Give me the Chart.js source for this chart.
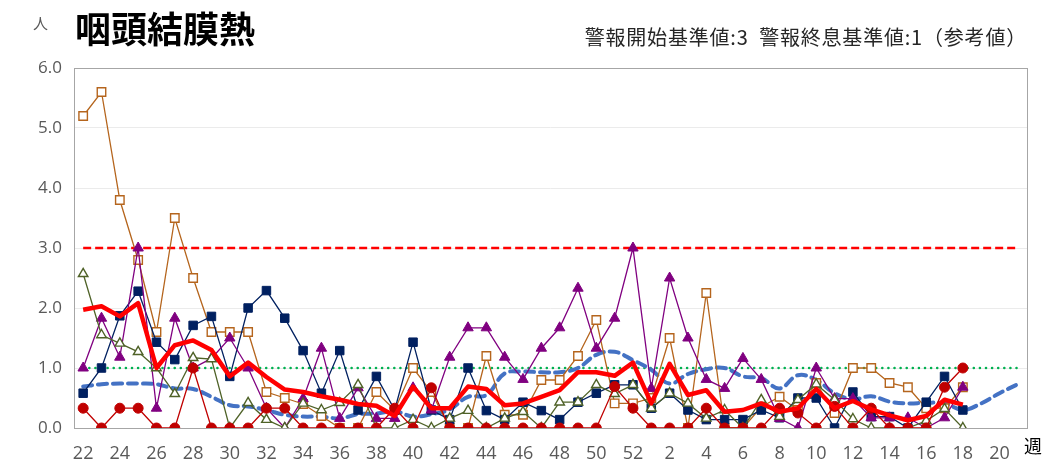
<!DOCTYPE html>
<html>
<head>
<meta charset="utf-8">
<script src="https://cdn.jsdelivr.net/npm/chart.js@4"></script>
<style>
  body { margin: 0; background: #fff; }
  #wrap { position: relative; width: 1042px; height: 464px; font-family: "Noto Sans CJK JP", "Noto Sans", sans-serif; }
  .lbl { position: absolute; white-space: pre; }
</style>
</head>
<body>
<div id="wrap">
  <canvas id="chart" width="1042" height="464"></canvas>
  <div class="lbl" style="left:33px;top:12px;font-size:15px;color:#595959;">人</div>
  <div class="lbl" style="left:75px;top:1px;font-size:36px;font-weight:bold;color:#000;">咽頭結膜熱</div>
  <div class="lbl" style="right:15px;top:22px;font-size:20px;letter-spacing:0.8px;color:#262626;">警報開始基準値:3  警報終息基準値:1（参考値）</div>
  <div class="lbl" style="left:1024px;top:432px;font-size:18px;color:#000;">週</div>
</div>
<script>
// weeks 22..52 then 1..21
const weeks = [22,23,24,25,26,27,28,29,30,31,32,33,34,35,36,37,38,39,40,41,42,43,44,45,46,47,48,49,50,51,52,
               1,2,3,4,5,6,7,8,9,10,11,12,13,14,15,16,17,18,19,20,21];
const tickLabels = [22,24,26,28,30,32,34,36,38,40,42,44,46,48,50,52,2,4,6,8,10,12,14,16,18,20];
const yTicks = ['0.0','1.0','2.0','3.0','4.0','5.0','6.0'];

const alertStart = 3;
const alertEnd = 1;

const seriesA = [5.2,5.6,3.8,2.8,1.6,3.5,2.5,1.6,1.6,1.6,0.6,0.5,0.4,0.2,0,0,0.6,0.3,1.0,0.6,0,0,1.2,0.22,0.22,0.8,0.8,1.2,1.8,0.41,0.41,
                 0.5,1.5,0,2.25,0,0,0.35,0.52,0.3,0.75,0.25,1.0,1.0,0.75,0.68,0.33,0.33,0.68,null,null,null];
const seriesB = [0.58,1.0,1.87,2.28,1.43,1.14,1.71,1.86,0.86,2.0,2.29,1.83,1.29,0.58,1.29,0.3,0.86,0.3,1.43,0.3,0.14,1.0,0.29,0.14,0.43,0.29,0.14,0.43,0.58,0.72,0.72,
                 0.33,0.58,0.3,0.14,0.14,0.14,0.3,0.17,0.5,0.5,0,0.6,0.19,0.19,0,0.43,0.86,0.3,null,null,null];
const seriesC = [1.0,1.83,1.18,3.0,0.33,1.83,1.0,1.16,1.5,1.0,0.33,0,0.49,1.33,0.16,0.67,0.16,0.16,0.67,0.3,1.18,1.67,1.67,1.18,0.81,1.33,1.67,2.33,1.33,1.83,3.0,
                 0.66,2.5,1.5,0.81,0.66,1.16,0.81,0.16,0,1.0,0.49,0.49,0.17,0.17,0.17,0,0.17,0.68,null,null,null];
const seriesD = [2.57,1.55,1.41,1.27,1.0,0.57,1.17,1.15,0,0.42,0.14,0,0.41,0.3,0.42,0.72,0,0,0.14,0,0.16,0.29,0,0.16,0.27,0,0.43,0.43,0.72,0.57,0.72,
                 0.33,0.58,0.41,0.16,0.3,0,0.47,0.19,0.47,0.73,0.47,0.15,0,0,0,0.12,0.32,0,null,null,null];
const seriesE = [0.33,0,0.33,0.33,0,0,1.0,0,0,0,0.33,0.33,0,0,0,0,0,0.33,0,0.67,0,0,0,0,0,0,0,0,0,0.69,0.33,
                 0,0,0,0.33,0,0,0,0.33,0.25,0,0.36,0,0.33,0,0,0,0.68,1.0,null,null,null];
const current = [1.97,2.03,1.86,2.08,1.0,1.38,1.46,1.3,0.86,1.09,0.85,0.64,0.6,0.53,0.47,0.4,0.37,0.2,0.69,0.33,0.33,0.69,0.65,0.38,0.41,0.52,0.63,0.93,0.93,0.87,1.09,
                 0.41,1.07,0.55,0.63,0.27,0.3,0.41,0.27,0.33,0.65,0.33,0.45,0.31,0.21,0.13,0.2,0.47,0.39,null,null,null];
const pastAvg = [0.69,0.73,0.74,0.74,0.73,0.66,0.65,0.52,0.38,0.36,0.3,0.22,0.19,0.19,0.16,0.23,0.24,0.28,0.19,0.23,0.31,0.52,0.55,0.91,0.94,0.93,0.93,1.0,1.22,1.27,1.13,
                 0.97,0.74,0.9,0.98,1.0,0.86,0.83,0.66,0.88,0.8,0.58,0.48,0.53,0.44,0.41,0.42,0.41,0.3,0.41,0.58,0.73];

const thin = (data, color, style, filled, radius) => ({
    data: data,
    borderColor: color,
    borderWidth: 1.3,
    pointStyle: style,
    pointRadius: radius,
    pointBorderWidth: filled ? 1 : 1.4,
    pointBackgroundColor: filled ? color : '#fff',
    pointBorderColor: color,
    spanGaps: false
});

// box around the plot area
const frame = {
    id: 'frame',
    beforeDatasetsDraw(chart) {
        const a = chart.chartArea;
        const ctx = chart.ctx;
        ctx.save();
        ctx.strokeStyle = '#a6a6a6';
        ctx.lineWidth = 1;
        ctx.strokeRect(Math.round(a.left) + 0.5, Math.round(a.top) + 0.5, Math.round(a.width), Math.round(a.height));
        ctx.restore();
    }
};

new Chart(document.getElementById('chart'), {
    type: 'line',
    data: {
        labels: weeks,
        datasets: [
            { data: current, borderColor: '#ff0000', borderWidth: 4.5, pointRadius: 0, borderJoinStyle: 'round' },
            thin(seriesE, '#c00000', 'circle', true, 5),
            thin(seriesD, '#4f6228', 'triangle', false, 5.5),
            thin(seriesC, '#800080', 'triangle', true, 6),
            thin(seriesB, '#002060', 'rect', true, 6),
            thin(seriesA, '#b5651d', 'rect', false, 6),
            { data: pastAvg, borderColor: '#4472c4', borderWidth: 4, borderDash: [9, 6], borderCapStyle: 'round', tension: 0.4, pointRadius: 0 },
            { data: weeks.map(() => alertEnd), borderColor: '#00b050', borderWidth: 2.5, borderDash: [0.1, 6], borderCapStyle: 'round', pointRadius: 0 },
            { data: weeks.map(() => alertStart), borderColor: '#ff0000', borderWidth: 2.5, borderDash: [8, 4], pointRadius: 0 }
        ]
    },
    options: {
        responsive: false,
        animation: false,
        layout: { padding: { left: 0, right: 15, top: 68, bottom: 0 } },
        plugins: { legend: { display: false }, tooltip: { enabled: false } },
        scales: {
            x: {
                type: 'category',
                offset: true,
                afterFit: s => { s.height = 36; },
                grid: { display: false, drawTicks: false },
                border: { display: false },
                ticks: {
                    autoSkip: false,
                    maxRotation: 0,
                    padding: 15,
                    color: '#595959',
                    font: { family: "'Open Sans', 'Noto Sans', sans-serif", size: 18 },
                    callback: function (v, i) {
                        const w = weeks[i];
                        return tickLabels.includes(w) ? String(w) : '';
                    }
                }
            },
            y: {
                min: 0,
                max: 6,
                afterFit: s => { s.width = 74; },
                grid: { color: '#ebebeb', drawTicks: false },
                border: { display: false },
                ticks: {
                    stepSize: 1,
                    padding: 12,
                    color: '#595959',
                    font: { family: "'Open Sans', 'Noto Sans', sans-serif", size: 17 },
                    callback: v => yTicks[v]
                }
            }
        }
    },
    plugins: [frame]
});
</script>
</body>
</html>
